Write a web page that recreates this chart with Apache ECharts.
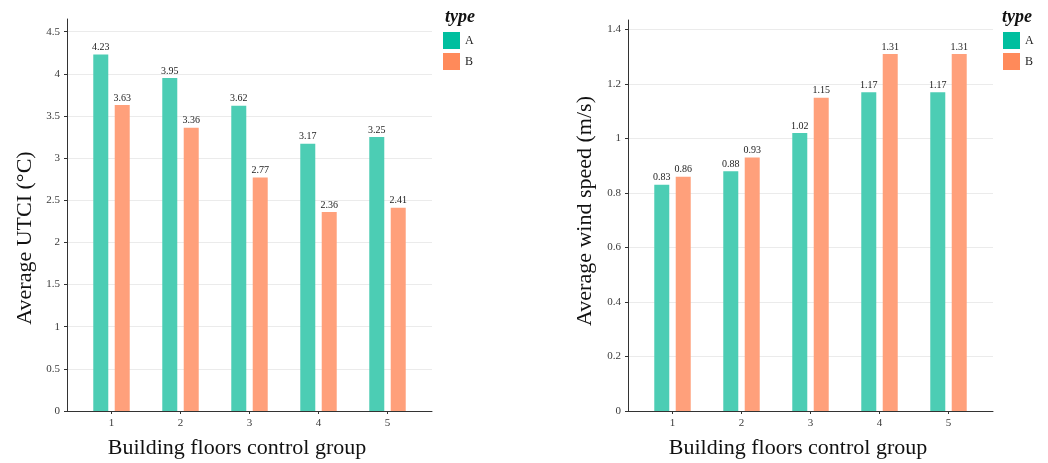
<!DOCTYPE html>
<html>
<head>
<meta charset="utf-8">
<script src="https://cdn.jsdelivr.net/npm/echarts@6/dist/echarts.min.js"></script>
<style>
  html, body { margin: 0; padding: 0; background: #fff; }
  #chart { width: 1048px; height: 463px; }
</style>
</head>
<body>
<div id="chart"></div>
<script>
// Floor-count control groups
const groups = ['1', '2', '3', '4', '5'];
// Average UTCI (°C) per group
const utciA = [4.23, 3.95, 3.62, 3.17, 3.25];
const utciB = [3.63, 3.36, 2.77, 2.36, 2.41];
// Average wind speed (m/s) per group
const windA = [0.83, 0.88, 1.02, 1.17, 1.17];
const windB = [0.86, 0.93, 1.15, 1.31, 1.31];

const SERIF = '"Liberation Serif", "Times New Roman", serif';
const barA = '#4ccdb4', barB = '#ffa07b';
const keyA = '#00bf9f', keyB = '#ff8a5a';
const axisColor = '#333333';
const gridColor = '#ebebeb';

const chart = echarts.init(document.getElementById('chart'), null, { renderer: 'canvas' });

// Panel frame: axis lines + gridlines on the full-width grid,
// bars on an inner grid so the bands sit inside the panel like ggplot's discrete expansion.
function frameY(gridIndex, max, interval) {
  return {
    gridIndex, type: 'value', min: 0, max, interval,
    axisLine: { show: true, lineStyle: { color: axisColor, width: 1 } },
    axisTick: { show: true, length: 3, lineStyle: { color: axisColor } },
    axisLabel: { color: '#3a3a3a', fontFamily: SERIF, fontSize: 11, margin: 7, showMaxLabel: false },
    splitLine: { show: true, showMaxLine: false, lineStyle: { color: gridColor, width: 1 } }
  };
}
function frameX(gridIndex) {
  return {
    gridIndex, type: 'value', min: 0, max: 1,
    axisLine: { show: true, onZero: false, lineStyle: { color: axisColor, width: 1 } },
    axisTick: { show: false }, axisLabel: { show: false }, splitLine: { show: false }
  };
}
function bandX(gridIndex) {
  return {
    gridIndex, type: 'category', data: groups,
    axisLine: { show: false },
    axisTick: { show: true, alignWithLabel: true, length: 3, lineStyle: { color: axisColor } },
    axisLabel: { color: '#3a3a3a', fontFamily: SERIF, fontSize: 11, margin: 7 },
    splitLine: { show: false }
  };
}
function bandY(gridIndex, max) {
  return { gridIndex, type: 'value', min: 0, max, show: false, splitLine: { show: false } };
}
function bars(name, data, color, xi, yi) {
  return {
    name, type: 'bar', data, xAxisIndex: xi, yAxisIndex: yi,
    barWidth: 15, barGap: '43%',
    itemStyle: { color },
    label: {
      show: true, position: 'top', distance: 2,
      fontFamily: SERIF, fontSize: 10, color: '#222',
      formatter: p => p.value.toFixed(2)
    }
  };
}
function legendAt(left) {
  return {
    orient: 'vertical', left, top: 32, padding: 0, itemGap: 4,
    itemWidth: 17, itemHeight: 17, icon: 'rect', selectedMode: false,
    textStyle: { fontFamily: SERIF, fontSize: 12, color: '#222' },
    data: [
      { name: 'A', itemStyle: { color: keyA } },
      { name: 'B', itemStyle: { color: keyB } }
    ]
  };
}
function typeTitle(left) {
  return {
    text: 'type', left, top: 8, padding: 0,
    textStyle: { fontFamily: SERIF, fontSize: 18, fontWeight: 'bold', fontStyle: 'italic', color: '#111' }
  };
}
const titleFont = { fontFamily: SERIF, fontSize: 22, fill: '#111' };

chart.setOption({
  animation: false,
  backgroundColor: '#fff',
  grid: [
    { left: 67, right: 616, top: 19, bottom: 52 },
    { left: 77, width: 345, top: 19, bottom: 52 },
    { left: 628, right: 55, top: 20, bottom: 52 },
    { left: 638, width: 345, top: 20, bottom: 52 }
  ],
  xAxis: [frameX(0), bandX(1), frameX(2), bandX(3)],
  yAxis: [frameY(0, 4.65, 0.5), bandY(1, 4.65), frameY(2, 1.435, 0.2), bandY(3, 1.435)],
  title: [typeTitle(445), typeTitle(1002)],
  legend: [legendAt(443), legendAt(1003)],
  series: [
    bars('A', utciA, barA, 1, 1),
    bars('B', utciB, barB, 1, 1),
    bars('A', windA, barA, 3, 3),
    bars('B', windB, barB, 3, 3)
  ],
  graphic: [
    { type: 'text', x: 237, y: 448, style: Object.assign({ text: 'Building floors control group', align: 'center', verticalAlign: 'middle' }, titleFont) },
    { type: 'text', x: 798, y: 448, style: Object.assign({ text: 'Building floors control group', align: 'center', verticalAlign: 'middle' }, titleFont) },
    { type: 'text', x: 25, y: 238, rotation: Math.PI / 2, style: Object.assign({ text: 'Average UTCI (°C)', align: 'center', verticalAlign: 'middle' }, titleFont) },
    { type: 'text', x: 585, y: 211, rotation: Math.PI / 2, style: Object.assign({ text: 'Average wind speed (m/s)', align: 'center', verticalAlign: 'middle' }, titleFont) }
  ]
});
</script>
</body>
</html>
